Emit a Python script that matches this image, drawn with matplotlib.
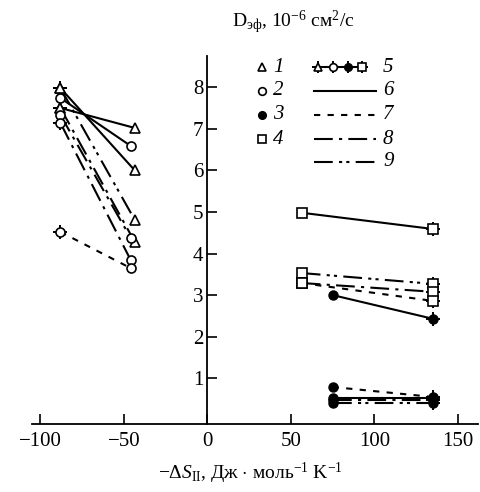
import matplotlib
matplotlib.use('Agg')
import matplotlib.pyplot as plt

plt.rcParams['font.family'] = ['Liberation Serif', 'DejaVu Serif']
plt.rcParams['mathtext.fontset'] = 'custom'
plt.rcParams['mathtext.rm'] = 'Liberation Serif'
plt.rcParams['mathtext.it'] = 'Liberation Serif:italic'

# segments: start point -> end point
x_start = [-88, -88, -88, -88, -88, -88, -88, -88,
           56.5, 56.5, 56.5, 56.5, 75,
           75, 75, 75, 75]
y_start = [7.50, 7.98, 7.74, 7.98, 7.50, 7.33, 7.14, 4.52,
           4.98, 3.53, 3.29, 3.29, 3.00,
           0.79, 0.53, 0.47, 0.41]
x_end = [-43.5, -43.5, -46, -43.5, -43.5, -46, -46, -46,
         135, 135, 135, 135, 135,
         135, 135, 135, 135]
y_end = [7.02, 6.00, 6.59, 4.81, 4.28, 4.38, 3.85, 3.65,
         4.59, 3.27, 3.08, 2.86, 2.43,
         0.55, 0.53, 0.47, 0.41]
marker = ['^', '^', 'o', '^', '^', 'o', 'o', 'o',
          's', 's', 's', 's', 'f',
          'f', 'f', 'f', 'f']
star_start = [True, True, False, True, True, False, True, True,
              False, False, False, False, False,
              False, False, False, False]
star_end = [False, False, False, False, False, False, False, False,
            True, True, True, True, True,
            True, True, True, True]
style = ['6', '6', '6', '9', '8', '8', '8', '7',
         '6', '9', '8', '7', '6',
         '7', '6', '8', '9']

dashes = {'6': '-', '7': (0, (3, 3.5)), '8': (0, (9, 3, 1.5, 3)),
          '9': (0, (9, 3, 1.5, 2, 1.5, 3))}

fig = plt.figure(figsize=(4.81, 4.92), dpi=100)
ax = fig.add_axes([32 / 481, 68 / 492, 446 / 481, 368 / 492])


def draw_marker(x, y, m, star, trans=None, scale=1.0):
    kw = {} if trans is None else {'transform': trans, 'clip_on': False}
    if star:
        ax.plot(x, y, marker='+', ms=10 * scale, mew=1.4, color='black',
                zorder=4, **kw)
    if m == 'f':
        ax.plot(x, y, marker='o', ms=6.5 * scale, mfc='black', mec='black',
                zorder=5, **kw)
    else:
        ms = {'o': 6.5, '^': 7, 's': 7}[m] * scale
        ax.plot(x, y, marker=m, ms=ms, mfc='white', mec='black', mew=1.2,
                zorder=5, **kw)


for i in range(len(x_start)):
    ax.plot([x_start[i], x_end[i]], [y_start[i], y_end[i]], color='black',
            lw=1.5, linestyle=dashes[style[i]], zorder=3)
    draw_marker(x_start[i], y_start[i], marker[i], star_start[i])
    draw_marker(x_end[i], y_end[i], marker[i], star_end[i])

ax.set_xlim(-105, 162)
ax.set_ylim(-0.1, 8.75)
ax.spines['left'].set_position(('data', 0))
ax.spines['right'].set_visible(False)
ax.spines['top'].set_visible(False)
ax.spines['left'].set_linewidth(1.3)
ax.spines['bottom'].set_linewidth(1.3)
ax.set_xticks([-100, -50, 0, 50, 100, 150])
ax.set_xticklabels(['\u2212100', '\u221250', '0', '50', '100', '150'])
ax.set_yticks([1, 2, 3, 4, 5, 6, 7, 8])
ax.tick_params(direction='in', length=7, width=1.2, labelsize=15)
ax.tick_params(axis='x', pad=6)
ax.tick_params(axis='y', pad=3)

# legend drawn by hand
tr = ax.transAxes
rows = [0.970, 0.905, 0.840, 0.774, 0.712]
for m, yy, lab in zip(['^', 'o', 'f', 's'], rows[:4], ['1', '2', '3', '4']):
    draw_marker(0.516, yy, m, False, trans=tr, scale=0.85)
    ax.text(0.540, yy, lab, transform=tr, fontsize=15, style='italic',
            va='center', ha='left')
ax.plot([0.636, 0.745], [rows[0], rows[0]], color='black', lw=1.5,
        transform=tr, clip_on=False)
for xx, m in zip([0.641, 0.675, 0.708, 0.741], ['^', 'o', 'f', 's']):
    draw_marker(xx, rows[0], m, True, trans=tr, scale=0.85)
ax.text(0.787, rows[0], '5', transform=tr, fontsize=15, style='italic',
        va='center', ha='left')
for yy, key in zip(rows[1:], ['6', '7', '8', '9']):
    ax.plot([0.632, 0.772], [yy, yy], color='black', lw=1.5,
            linestyle=dashes[key], transform=tr, clip_on=False)
    ax.text(0.787, yy, key, transform=tr, fontsize=15, style='italic',
            va='center', ha='left')

fig.text(232 / 481, 1 - 22 / 492,
         r'D$_{\mathrm{эф}}$, 10$^{-6}$ см$^2$/с', fontsize=14,
         ha='left', va='center')
fig.text(250 / 481, 1 - 473 / 492,
         r'$-\Delta S_{\mathrm{II}}$, Дж $\cdot$ моль$^{-1}$ K$^{-1}$',
         fontsize=14, ha='center', va='center')

fig.savefig('out.png', dpi=100)
